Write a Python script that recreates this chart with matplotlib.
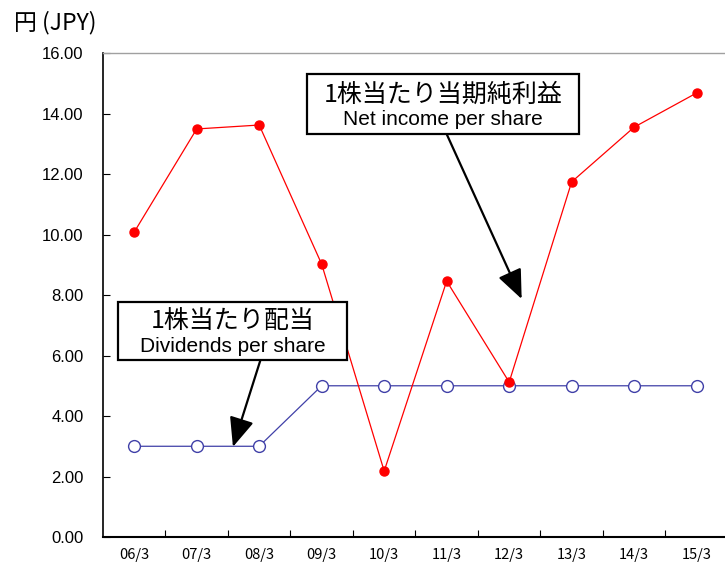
import numpy as np
import matplotlib
matplotlib.use('Agg')
import matplotlib.pyplot as plt
from matplotlib.patches import Rectangle, FancyArrowPatch

plt.rcParams['font.family'] = ['Liberation Sans', 'Noto Sans CJK JP', 'DejaVu Sans']

# ---------- data ----------
periods = ['06/3', '07/3', '08/3', '09/3', '10/3', '11/3', '12/3', '13/3', '14/3', '15/3']
net_income = [10.08, 13.49, 13.62, 9.02, 2.18, 8.46, 5.12, 11.74, 13.55, 14.68]
dividends = [3, 3, 3, 5, 5, 5, 5, 5, 5, 5]
yticks = [0, 2, 4, 6, 8, 10, 12, 14, 16]

fig = plt.figure(figsize=(7.25, 5.69), dpi=100)
ax = fig.add_axes([0.142, 0.0562, 0.862, 0.8506])
x = np.arange(len(periods))

ax.plot(x, net_income, color='red', lw=0.9, marker='o', ms=6.5,
        mfc='red', mec='red', zorder=3)
ax.plot(x, dividends, color='#4040a8', lw=0.9, marker='o', ms=8.5,
        mfc='white', mec='#4040a8', mew=1.0, zorder=2)

ax.set_xlim(-0.5, len(periods) - 0.5)
ax.set_ylim(0, 16)
ax.set_yticks(yticks)
ax.set_yticklabels([f'{v:.2f}' for v in yticks], fontsize=12)
# category labels in the middle, ticks on the boundaries
ax.set_xticks(x)
ax.set_xticklabels(periods, fontsize=10.5, family=['Noto Sans CJK JP'])
ax.tick_params(axis='x', which='major', length=0, pad=8)
ax.set_xticks(np.arange(0.5, len(periods) - 0.5), minor=True)
ax.tick_params(axis='x', which='minor', direction='in', length=5, width=0.8)
ax.tick_params(axis='y', direction='in', length=5, width=0.8, pad=14)

ax.spines['right'].set_visible(False)
ax.spines['top'].set_color('#a0a0a0')
ax.spines['top'].set_linewidth(1.0)
ax.spines['left'].set_linewidth(1.2)
ax.spines['bottom'].set_linewidth(1.5)

fig.text(0.02, 0.961, '円 (JPY)', fontsize=16.5, va='center', ha='left',
         family=['Noto Sans CJK JP', 'Liberation Sans'])


def callout(x0, x1, y0, y1, jp, en, start, tip):
    ax.add_patch(Rectangle((x0, y0), x1 - x0, y1 - y0, facecolor='white',
                           edgecolor='black', lw=1.6, zorder=5))
    xc = (x0 + x1) / 2
    h = y1 - y0
    ax.text(xc, y0 + h * 0.65, jp, ha='center', va='center', fontsize=18,
            family=['Noto Sans CJK JP'], zorder=6)
    ax.text(xc, y0 + h * 0.24, en, ha='center', va='center', fontsize=15,
            zorder=6)
    ax.add_patch(FancyArrowPatch(start, tip,
                                 arrowstyle='-|>,head_length=0.9,head_width=0.38',
                                 mutation_scale=20, color='black', lw=1.6,
                                 shrinkA=0, shrinkB=0, zorder=6))


callout(-0.26, 3.40, 5.85, 7.77, '1株当たり配当', 'Dividends per share',
        (2.02, 5.85), (1.58, 2.98))
callout(2.76, 7.12, 13.32, 15.31, '1株当たり当期純利益', 'Net income per share',
        (5.0, 13.32), (6.2, 7.87))

fig.savefig('out.png', dpi=100)
